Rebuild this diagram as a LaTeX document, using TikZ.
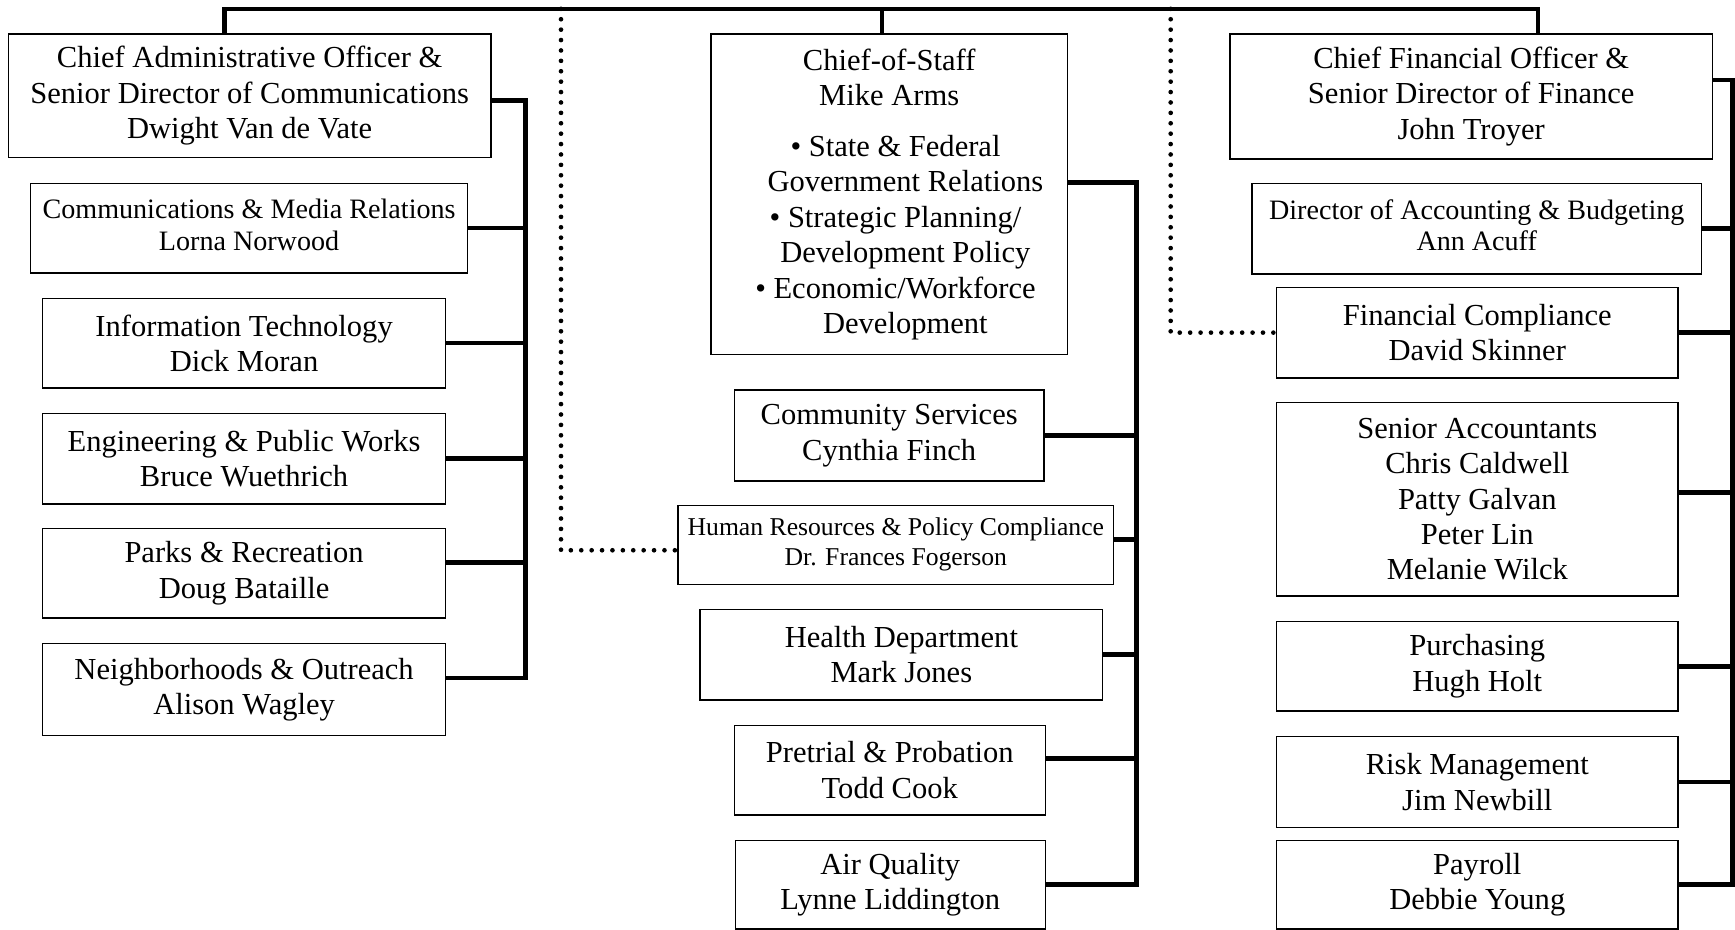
\documentclass[tikz,border=0pt]{standalone}
\usepackage{fontspec}
\setmainfont{Liberation Serif}
\begin{document}
\begin{tikzpicture}[x=0.5pt,y=-0.5pt,
  box/.style={draw=black,line width=0.6pt,inner sep=0pt,align=center,anchor=north west,fill=white},
  big/.style={font=\fontsize{13.8}{16}\selectfont},
  mid/.style={font=\fontsize{12.7}{14.2}\selectfont,text depth=3pt},
  small/.style={font=\fontsize{11.6}{13.5}\selectfont},
  conn/.style={line width=2.1pt},
  dotline/.style={line width=2.1pt,line cap=round,dash pattern=on 0pt off 4.7pt}]
\useasboundingbox (0,0) rectangle (1568,840);

% ---------- left column ----------
\node[box,big,minimum width=218pt,minimum height=56pt] (cao) at (7,30)
  {Chief Administrative Officer \&\\Senior Director of Communications\\Dwight Van de Vate};
\node[box,mid,minimum width=197.5pt,minimum height=40.5pt] (comm) at (27,165)
  {Communications \& Media Relations\\Lorna Norwood};
\node[box,big,minimum width=182pt,minimum height=40.5pt] (it) at (38,269)
  {Information Technology\\Dick Moran};
\node[box,big,minimum width=182pt,minimum height=41pt] (eng) at (38,373)
  {Engineering \& Public Works\\Bruce Wuethrich};
\node[box,big,minimum width=182pt,minimum height=40.5pt] (parks) at (38,477)
  {Parks \& Recreation\\Doug Bataille};
\node[box,big,minimum width=182pt,minimum height=41.5pt] (nbr) at (38,581)
  {Neighborhoods \& Outreach\\Alison Wagley};

% ---------- middle column ----------
\node[box,big,minimum width=161pt,minimum height=145pt] (cos) at (642,30)
  {Chief-of-Staff\\Mike Arms\\[7pt]
   \hspace*{5.7pt}\textbullet\ State \& Federal\\
   \hspace*{14.6pt}Government Relations\\
   \hspace*{5.7pt}\textbullet\ Strategic Planning/\\
   \hspace*{14.6pt}Development Policy\\
   \hspace*{5.7pt}\textbullet\ Economic/Workforce\\
   \hspace*{14.6pt}Development};
\node[box,big,minimum width=140pt,minimum height=41pt] (comsvc) at (663,352)
  {Community Services\\Cynthia Finch};
\node[box,small,minimum width=197pt,minimum height=35.7pt] (hr) at (612,456)
  {Human Resources \& Policy Compliance\\Dr. Frances Fogerson};
\node[box,big,minimum width=182pt,minimum height=41pt] (health) at (632,550)
  {Health Department\\Mark Jones};
\node[box,big,minimum width=140.5pt,minimum height=40.5pt] (pre) at (663,655)
  {Pretrial \& Probation\\Todd Cook};
\node[box,big,minimum width=140pt,minimum height=40pt] (air) at (664,759)
  {Air Quality\\Lynne Liddington};

% ---------- right column ----------
\node[box,big,minimum width=218pt,minimum height=56.5pt] (cfo) at (1111,30)
  {Chief Financial Officer \&\\Senior Director of Finance\\John Troyer};
\node[box,mid,minimum width=203pt,minimum height=41pt] (dir) at (1131,165)
  {Director of Accounting \& Budgeting\\Ann Acuff};
\node[box,big,minimum width=181.5pt,minimum height=41pt] (fc) at (1153,259)
  {Financial Compliance\\David Skinner};
\node[box,big,minimum width=181.5pt,minimum height=87.5pt] (sa) at (1153,363)
  {Senior Accountants\\Chris Caldwell\\Patty Galvan\\Peter Lin\\Melanie Wilck};
\node[box,big,minimum width=181.5pt,minimum height=40.5pt] (pur) at (1153,561)
  {Purchasing\\Hugh Holt};
\node[box,big,minimum width=181.5pt,minimum height=41pt] (risk) at (1153,665)
  {Risk Management\\Jim Newbill};
\node[box,big,minimum width=181.5pt,minimum height=40pt] (pay) at (1153,759)
  {Payroll\\Debbie Young};

% ---------- bus coordinates ----------
\coordinate (busA) at (475,0);
\coordinate (busB) at (1027,0);
\coordinate (busC) at (1566,0);
\coordinate (tA) at (203,8);
\coordinate (tB) at (797,8);
\coordinate (tC) at (1390,8);
\coordinate (dA) at (507,8);
\coordinate (dB) at (1058,8);

% ---------- dotted lines ----------
\coordinate (hr-d) at ([yshift=-2.5pt]hr.west);
\draw[dotline] (dA) -- (dA |- hr-d) -- (hr-d);
\draw[dotline] (dB) -- (dB |- fc.west) -- (fc.west);

% ---------- top bus ----------
\draw[conn] (tA |- cao.north) -- (tA) -- (tC) -- (tC |- cfo.north);
\draw[conn] (tB) -- (tB |- cos.north);

% ---------- connector points ----------
\foreach \n/\s in {cao/-2,comm/0,it/0,eng/0,parks/4.9,nbr/5.25,
                   cos/5.25,comsvc/0,hr/2.5,health/0,pre/5.25,air/0,
                   cfo/7.4,dir/0,fc/0,sa/3,pur/0,risk/0,pay/0}{
  \coordinate (\n-c) at ([yshift=\s pt]\n.east);
}

% ---------- left bus ----------
\draw[conn] (cao-c) -- (cao-c -| busA) -- (nbr-c -| busA) -- (nbr-c);
\foreach \n in {comm,it,eng,parks}{\draw[conn] (\n-c) -- (\n-c -| busA);}

% ---------- middle bus ----------
\draw[conn] (cos-c) -- (cos-c -| busB) -- (air-c -| busB) -- (air-c);
\foreach \n in {comsvc,hr,health,pre}{\draw[conn] (\n-c) -- (\n-c -| busB);}

% ---------- right bus ----------
\draw[conn] (cfo-c) -- (cfo-c -| busC) -- (pay-c -| busC) -- (pay-c);
\foreach \n in {dir,fc,sa,pur,risk}{\draw[conn] (\n-c) -- (\n-c -| busC);}
\end{tikzpicture}
\end{document}
